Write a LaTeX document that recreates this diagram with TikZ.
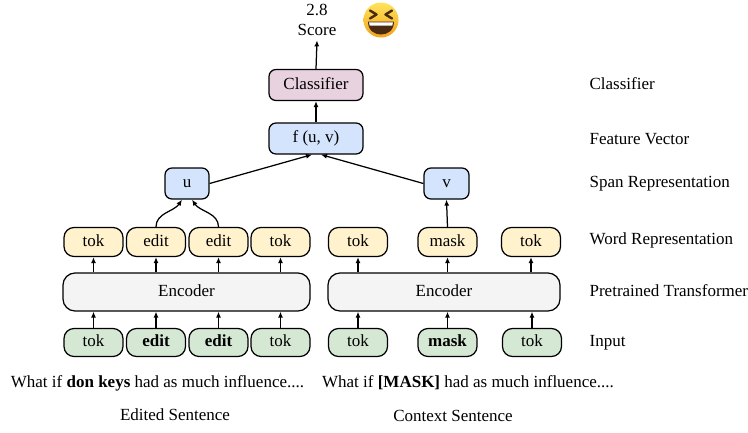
\documentclass[tikz,border=0pt]{standalone}
\usepackage{fontspec}
\setmainfont{Liberation Serif}
\usetikzlibrary{arrows.meta}
\definecolor{wordfill}{HTML}{FFF2CC}
\definecolor{inputfill}{HTML}{D5E8D4}
\definecolor{encfill}{HTML}{F4F4F4}
\definecolor{spanfill}{HTML}{D4E4FC}
\definecolor{clsfill}{HTML}{E8D2E0}
\definecolor{faceTop}{HTML}{FFE45C}
\definecolor{faceBot}{HTML}{F2A31B}
\definecolor{faceInk}{HTML}{4A2A10}
\begin{document}
\begin{tikzpicture}[x=1pt, y=-1pt, line width=1.25pt,
    font=\fontsize{17}{20}\selectfont, >={Latex[length=6pt,width=5pt]}]
  \tikzstyle{box}=[draw, rounded corners=7pt, inner sep=0pt, text height=11.5pt, text depth=3.5pt]
  \tikzstyle{word}=[box, fill=wordfill, rounded corners=10pt, minimum width=59pt, minimum height=29pt]
  \tikzstyle{input}=[box, fill=inputfill, rounded corners=10pt, minimum width=59pt, minimum height=28pt]
  \tikzstyle{enc}=[box, fill=encfill, rounded corners=12pt, minimum height=38pt]
  \tikzstyle{span}=[box, fill=spanfill, minimum width=44pt, minimum height=31pt]
  \useasboundingbox (0,0) rectangle (748,432);
  % top part
  \node[align=center, inner sep=2pt] (score) at (317,20) {2.8\\Score};
  \node[span, fill=clsfill, minimum width=94pt] (cls) at (316,85) {Classifier};
  \node[span, minimum width=94pt] (feat) at (316,138.5) {f (u, v)};
  \node[span] (u) at (187,183.5) {u};
  \node[span, minimum width=45pt] (v) at (446.5,183.5) {v};
  % token rows and encoders
  \foreach \x/\t/\n in {93.5/tok/1, 156/edit/2, 218.5/edit/3, 280.5/tok/4, 358/tok/5, 447.5/mask/6, 531/tok/7}
    \node[word] (w\n) at (\x,242) {\t};
  \foreach \x/\t/\n in {93.5/tok/1, 156/\textbf{edit}/2, 218.5/\textbf{edit}/3, 280.5/tok/4, 358/tok/5, 447.5/\textbf{mask}/6, 532/tok/7}
    \node[input] (i\n) at (\x,342.5) {\t};
  \node[enc, minimum width=247pt] (enc1) at (186.5,292) {Encoder};
  \node[enc, minimum width=232pt] (enc2) at (444,292) {Encoder};
  \foreach \n/\e in {1/enc1, 2/enc1, 3/enc1, 4/enc1, 5/enc2, 6/enc2, 7/enc2} {
    \draw[->] (i\n.north) -- (i\n.north |- \e.south);
    \draw[->] (w\n.south |- \e.north) -- (w\n.south);
  }
  % arrows up
  \draw[->] (w2.north) .. controls +(0,-14) and +(-8,12) .. ([xshift=-5pt]u.south);
  \draw[->] (w3.north) .. controls +(0,-14) and +(8,12) .. ([xshift=5pt]u.south);
  \draw[->] (w6.north) -- (v.south);
  \draw[->] (u.east) -- ([xshift=-4pt]feat.south);
  \draw[->] (v.west) -- ([xshift=5pt]feat.south);
  \draw[->] (feat.north) -- (cls.south);
  \draw[->] (cls.north) -- ([yshift=-2pt]score.south);
  % sentences
  \node (sent1) at (157.5,383) {What if \textbf{don keys} had as much influence....};
  \node (sent2) at (468,383) {What if \textbf{[MASK]} had as much influence....};
  \node (cap1) at (175,415) {Edited Sentence};
  \node (cap2) at (453,416) {Context Sentence};
  % layer names
  \foreach \y/\t/\n in {84/Classifier/1, 139/Feature Vector/2, 184/Span Representation/3,
      240/Word Representation/4, 291/Pretrained Transformer/5, 343/Input/6}
    \node[anchor=west, inner sep=0pt] (name\n) at (589,\y) {\t};
  % laughing face
  \shade[top color=faceTop, bottom color=faceBot] (381,20) circle (17.5);
  \draw[faceInk, line width=2.4pt, line cap=round, line join=round]
    (370,10.5) -- (376.5,14.5) -- (370,18.5) (392,10.5) -- (385.5,14.5) -- (392,18.5);
  \fill[faceInk] (368,21.5) -- (394,21.5) .. controls (394,31) and (387,34.5) .. (381,34.5)
    .. controls (375,34.5) and (368,31) .. (368,21.5) -- cycle;
  \fill[white] (369,22.3) -- (393,22.3) -- (392.3,25.5) -- (369.7,25.5) -- cycle;
\end{tikzpicture}
\end{document}
